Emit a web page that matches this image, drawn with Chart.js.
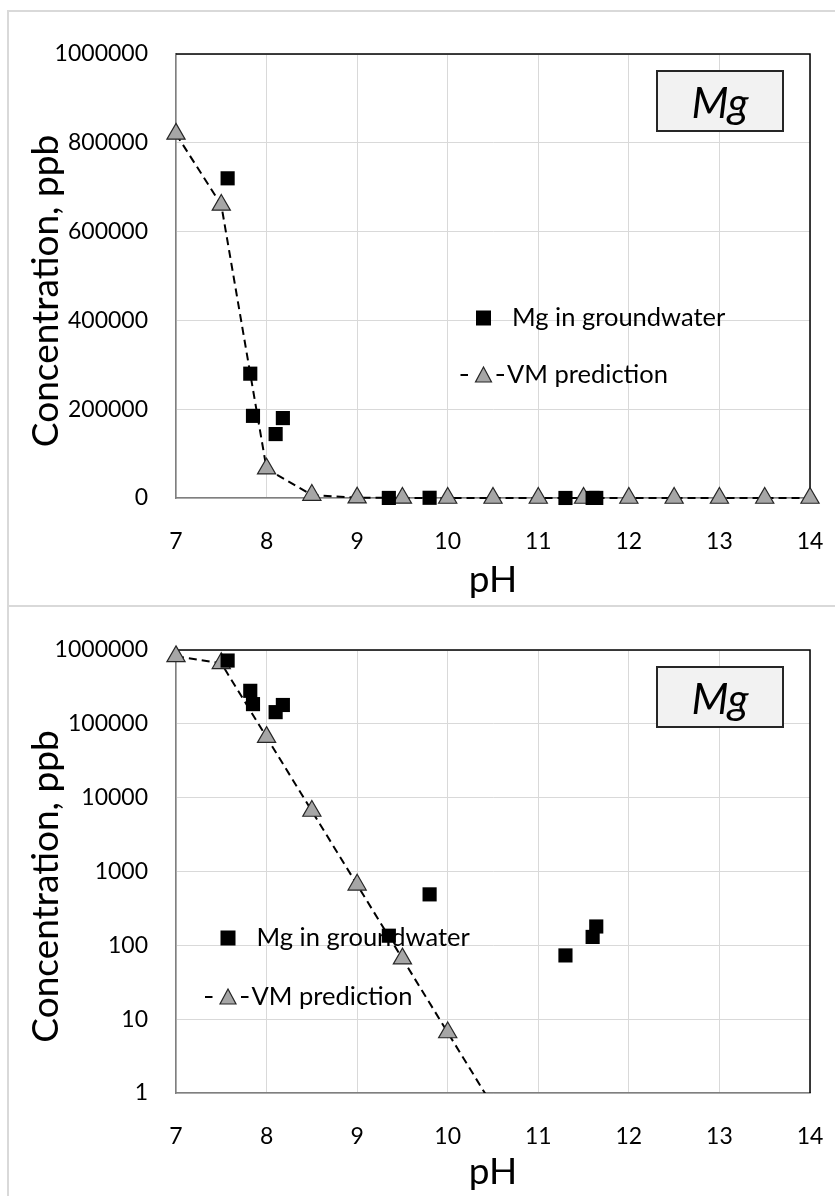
<!DOCTYPE html>
<html>
<head>
<meta charset="utf-8">
<script src="https://cdn.jsdelivr.net/npm/chart.js@4.4.1/dist/chart.umd.min.js"></script>
<style>
  html, body { margin: 0; padding: 0; background: #fff; }
  #wrap { position: relative; width: 835px; height: 1196px; overflow: hidden; }
  canvas { position: absolute; left: 0; }
  .rule { position: absolute; background: #d9d9d9; }
</style>
</head>
<body>
<div id="wrap">
  <canvas id="linChart" width="835" height="606" style="top:0;width:835px;height:606px"></canvas>
  <canvas id="logChart" width="835" height="590" style="top:606px;width:835px;height:590px"></canvas>
  <div class="rule" style="left:8px;top:10px;width:827px;height:2px"></div>
  <div class="rule" style="left:7px;top:10px;width:2px;height:1186px"></div>
  <div class="rule" style="left:8px;top:605px;width:827px;height:2px"></div>
</div>
<script>
// measured Mg in groundwater
const phObs = [7.57, 7.82, 7.85, 8.10, 8.18, 9.35, 9.80, 11.30, 11.60, 11.64];
const mgObs = [720000, 280000, 185000, 144000, 180000, 135, 490, 73, 130, 180];

// VM model prediction
const phVm = [7, 7.5, 8, 8.5, 9, 9.5, 10, 10.5, 11, 11.5, 12, 12.5, 13, 13.5, 14];
const mgVm = [820000, 660000, 66000, 6600, 660, 66, 6.6, 0.66, 0.066, 0.0066,
              0.00066, 0.000066, 0.0000066, 0.00000066, 0.000000066];

const xTicks = [7, 8, 9, 10, 11, 12, 13, 14];
const yTicksLin = [0, 200000, 400000, 600000, 800000, 1000000];
const yTicksLog = [1, 10, 100, 1000, 10000, 100000, 1000000];

const FONT = "Lato";
const Y_TITLE = "Concentration, ppb";

// frame, in-plot legend, y title and the "Mg" label box
const panelDecor = {
  id: "panelDecor",
  beforeDatasetsDraw(chart, args, o) {
    const ctx = chart.ctx, a = chart.chartArea;
    const ds = chart.data.datasets;
    ctx.save();
    ctx.strokeStyle = "#000";
    ctx.lineWidth = 1.5;
    ctx.beginPath();
    ctx.moveTo(a.left, a.top);
    ctx.lineTo(a.right, a.top);
    ctx.lineTo(a.right, a.bottom);
    ctx.stroke();

    // y axis title (sits a little below the plot centre, like the original)
    ctx.save();
    ctx.translate(46, (a.top + a.bottom) / 2 + 15);
    ctx.rotate(-Math.PI / 2);
    ctx.font = "37px " + FONT;
    ctx.fillStyle = "#000";
    ctx.textAlign = "center";
    ctx.textBaseline = "middle";
    ctx.fillText(Y_TITLE, 0, 0);
    ctx.restore();

    ctx.font = "25.5px " + FONT;
    ctx.fillStyle = "#000";
    ctx.textBaseline = "middle";
    ctx.textAlign = "left";
    // row 1: square
    ctx.fillRect(o.x - 7.5, o.y1 - 7.5, 15, 15);
    ctx.fillText(ds[0].label, o.x + 28.5, o.y1);
    // row 2: dash - triangle - dash
    ctx.lineWidth = 2;
    ctx.beginPath();
    ctx.moveTo(o.x - 23, o.y2); ctx.lineTo(o.x - 15.5, o.y2);
    ctx.moveTo(o.x + 13, o.y2); ctx.lineTo(o.x + 20.5, o.y2);
    ctx.stroke();
    ctx.beginPath();
    ctx.moveTo(o.x, o.y2 - 8);
    ctx.lineTo(o.x + 8, o.y2 + 7);
    ctx.lineTo(o.x - 8, o.y2 + 7);
    ctx.closePath();
    ctx.fillStyle = "#a6a6a6";
    ctx.fill();
    ctx.strokeStyle = "#262626";
    ctx.lineWidth = 1.2;
    ctx.stroke();
    ctx.fillStyle = "#000";
    ctx.fillText(ds[1].label, o.x + 23.5, o.y2);
    ctx.restore();
  },
  afterDatasetsDraw(chart, args, o) {
    const ctx = chart.ctx;
    ctx.save();
    ctx.fillStyle = "#f2f2f2";
    ctx.fillRect(657, o.boxTop, 126, 60);
    ctx.strokeStyle = "#262626";
    ctx.lineWidth = 2;
    ctx.strokeRect(657, o.boxTop, 126, 60);
    ctx.fillStyle = "#000";
    ctx.font = "italic 43px " + FONT;
    ctx.textAlign = "center";
    ctx.textBaseline = "alphabetic";
    ctx.fillText("Mg", 720, o.boxTop + 47);
    ctx.restore();
  }
};

function makeChart(id, isLog, L) {
  const yTicks = isLog ? yTicksLog : yTicksLin;
  return new Chart(document.getElementById(id), {
    type: "scatter",
    data: {
      datasets: [
        {
          label: "Mg in groundwater",
          data: phObs.map((x, i) => ({ x: x, y: mgObs[i] })),
          pointStyle: "rect",
          pointRadius: 10,
          pointHoverRadius: 10,
          backgroundColor: "#000",
          borderColor: "#000",
          borderWidth: 0,
          clip: L.clip
        },
        {
          label: "VM prediction",
          data: phVm.map((x, i) => ({ x: x, y: mgVm[i] })),
          showLine: true,
          tension: 0,
          borderColor: "#000",
          borderWidth: 2,
          borderDash: [8, 5],
          pointStyle: "triangle",
          pointRadius: 10.5,
          pointHoverRadius: 10.5,
          pointBackgroundColor: "#a6a6a6",
          pointBorderColor: "#262626",
          pointBorderWidth: 1.2,
          clip: L.clip
        }
      ]
    },
    options: {
      responsive: false,
      animation: false,
      events: [],
      layout: { padding: { left: 0, right: 25, top: L.top, bottom: 0 } },
      plugins: {
        legend: { display: false },
        tooltip: { enabled: false },
        panelDecor: L.decor
      },
      scales: {
        x: {
          type: "linear",
          min: 7,
          max: 14,
          afterBuildTicks: s => { s.ticks = xTicks.map(v => ({ value: v })); },
          afterFit: s => { s.height = L.xHeight; },
          grid: { color: "#d9d9d9", lineWidth: 1, drawTicks: true, tickLength: 27, tickColor: "rgba(0,0,0,0)" },
          border: { color: "#7f7f7f", width: 1.5 },
          ticks: { padding: 3, color: "#000", font: { family: FONT, size: 23 }, maxRotation: 0 },
          title: {
            display: true, text: "pH", color: "#000",
            font: { family: FONT, size: 37 },
            padding: { top: 0, bottom: L.xTitlePad }
          }
        },
        y: {
          type: isLog ? "logarithmic" : "linear",
          min: isLog ? 1 : 0,
          max: 1000000,
          afterBuildTicks: s => { s.ticks = yTicks.map(v => ({ value: v })); },
          afterFit: s => { s.width = 176; },
          grid: { color: "#d9d9d9", lineWidth: 1, drawTicks: true, tickLength: 25, tickColor: "rgba(0,0,0,0)" },
          border: { color: "#7f7f7f", width: 1.5 },
          ticks: { padding: 3, color: "#000", font: { family: FONT, size: 23 },
                   callback: v => String(v) },
          title: { display: false }
        }
      }
    },
    plugins: [panelDecor]
  });
}

Promise.all([
  document.fonts.load("24px Lato"),
  document.fonts.load("italic 43px Lato")
]).catch(() => {}).then(() => {
  makeChart("linChart", false, {
    top: 54, xHeight: 108, xTitlePad: 4,
    clip: { left: 15, top: 15, right: 15, bottom: 15 },
    decor: { x: 483.5, y1: 318, y2: 375, boxTop: 71 }
  });
  makeChart("logChart", true, {
    top: 44, xHeight: 103, xTitlePad: 2,
    clip: { left: 15, top: 15, right: 15, bottom: 0 },
    decor: { x: 228, y1: 332, y2: 391, boxTop: 61 }
  });
});
</script>
</body>
</html>
